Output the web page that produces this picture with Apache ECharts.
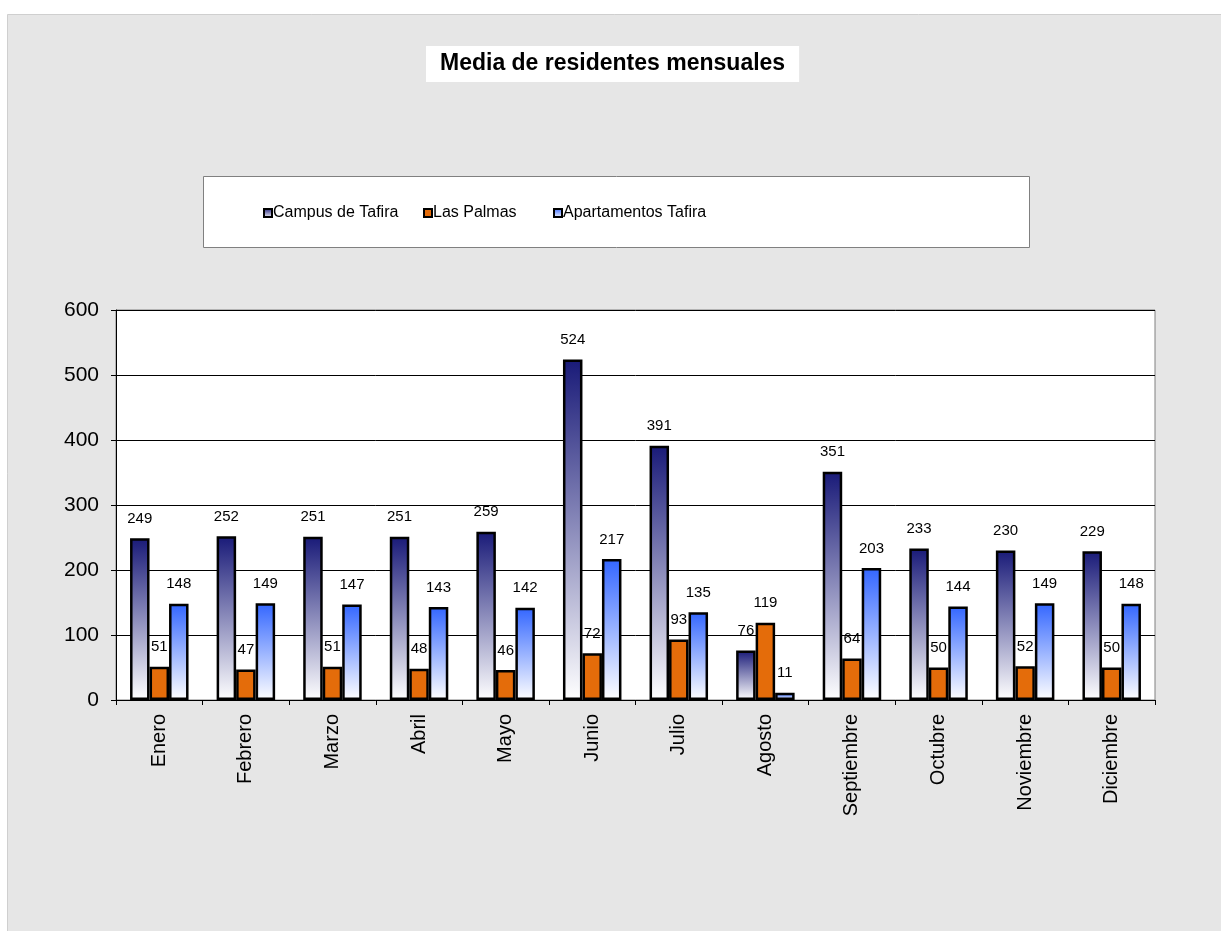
<!DOCTYPE html>
<html>
<head>
<meta charset="utf-8">
<script src="https://cdn.jsdelivr.net/npm/echarts@6/dist/echarts.min.js"></script>
<style>
html,body{margin:0;padding:0;background:#fff;}
#c{width:1221px;height:931px;}
</style>
</head>
<body>
<div id="c"></div>
<script>
const categories = ['Enero','Febrero','Marzo','Abril','Mayo','Junio','Julio','Agosto','Septiembre','Octubre','Noviembre','Diciembre'];
const seriesNames = ['Campus de Tafira','Las Palmas','Apartamentos Tafira'];
const campusTafira = [249,252,251,251,259,524,391,76,351,233,230,229];
const lasPalmas = [51,47,51,48,46,72,93,119,64,50,52,50];
const apartamentosTafira = [148,149,147,143,142,217,135,11,203,144,149,148];
const yTicks = [0,100,200,300,400,500,600];

const chart = echarts.init(document.getElementById('c'), null, {renderer:'canvas'});
const FONT = 'Liberation Sans, Arial, sans-serif';

function grad(top, bottom){
  return new echarts.graphic.LinearGradient(0,0,0,1,[{offset:0,color:top},{offset:1,color:bottom}]);
}
const labelCfg = {show:true, position:'top', distance:12, color:'#000', fontSize:15, fontFamily:FONT};
const legendLefts = [263, 423, 553];

const option = {
  backgroundColor:'#fff',
  animation:false,
  graphic:[
    {type:'rect', z:-10, silent:true, shape:{x:7.5,y:14.5,width:1220,height:920}, style:{fill:'#e6e6e6', stroke:'#cfcfcf', lineWidth:1}},
    {type:'rect', z:-5, silent:true, shape:{x:203.5,y:176.5,width:826,height:71}, style:{fill:'#fff', stroke:'#808080', lineWidth:1}}
  ],
  title:{
    text:'Media de residentes mensuales',
    left:426, top:46,
    backgroundColor:'#fff',
    padding:[6,14,6,14],
    textStyle:{fontFamily:FONT, fontSize:23, fontWeight:'bold', color:'#000', lineHeight:24}
  },
  legend: seriesNames.map((n, i) => ({
    left:legendLefts[i], top:205, padding:0,
    itemWidth:8, itemHeight:8,
    icon:'rect',
    textStyle:{fontFamily:FONT, fontSize:16, color:'#000', padding:[0,0,0,-4]},
    data:[n]
  })),
  grid:{
    left:116, right:66, top:310, bottom:231,
    show:true, backgroundColor:'#fff', borderColor:'#808080', borderWidth:1,
    containLabel:false
  },
  xAxis:{
    type:'category',
    data:categories,
    boundaryGap:true,
    axisLine:{show:true, lineStyle:{color:'#000', width:1}},
    axisTick:{show:true, length:5, alignWithLabel:false, lineStyle:{color:'#000'}},
    axisLabel:{rotate:90, fontFamily:FONT, fontSize:20, color:'#000', margin:14, interval:0},
    splitLine:{show:false}
  },
  yAxis:{
    type:'value',
    min:yTicks[0], max:yTicks[yTicks.length-1], interval:100,
    axisLine:{show:true, lineStyle:{color:'#000', width:1}},
    axisTick:{show:true, length:5, lineStyle:{color:'#000'}},
    axisLabel:{fontFamily:FONT, fontSize:21, color:'#000', margin:17},
    splitLine:{show:true, lineStyle:{color:'#000', width:1}}
  },
  series:[
    {
      name:seriesNames[0], type:'bar', data:campusTafira,
      barWidth:19.5, barGap:'0%',
      itemStyle:{color:grad('#191a78','#ffffff'), borderColor:'#000', borderWidth:2.5},
      label:labelCfg
    },
    {
      name:seriesNames[1], type:'bar', data:lasPalmas,
      barWidth:19.5, barGap:'0%',
      itemStyle:{color:'#e46c0a', borderColor:'#000', borderWidth:2.5},
      label:labelCfg
    },
    {
      name:seriesNames[2], type:'bar', data:apartamentosTafira,
      barWidth:19.5, barGap:'0%',
      itemStyle:{color:grad('#3366ff','#ffffff'), borderColor:'#000', borderWidth:2.5},
      label:labelCfg
    }
  ]
};
chart.setOption(option);
</script>
</body>
</html>
